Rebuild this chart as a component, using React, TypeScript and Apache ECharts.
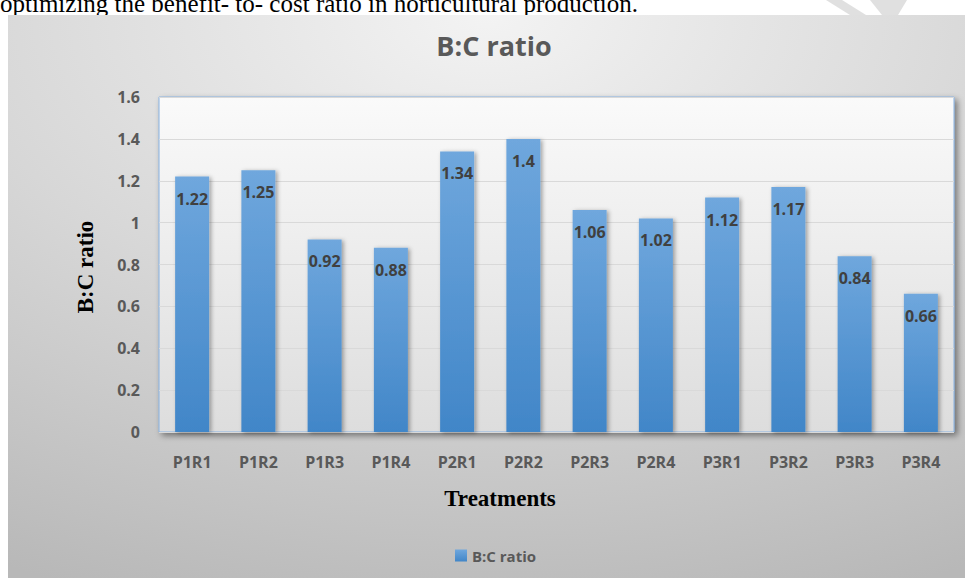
import React, { useEffect, useRef } from "react";
import * as echarts from "echarts";

const categories = ["P1R1", "P1R2", "P1R3", "P1R4", "P2R1", "P2R2", "P2R3", "P2R4", "P3R1", "P3R2", "P3R3", "P3R4"];
const bcRatio = [1.22, 1.25, 0.92, 0.88, 1.34, 1.4, 1.06, 1.02, 1.12, 1.17, 0.84, 0.66];
const seriesName = "B:C ratio";
const titleText = "B:C ratio";
const yAxisName = "B:C ratio";
const xAxisName = "Treatments";
const headerText = "optimizing the benefit- to- cost ratio in horticultural production.";

export default function App() {
  const ref = useRef<HTMLDivElement>(null);
  useEffect(() => {
    if (!ref.current) return;
    const chart = echarts.init(ref.current, undefined, { renderer: "svg" });
    const sans = "'Open Sans', 'Noto Sans', sans-serif";
    const serif = "'Liberation Serif', 'DejaVu Serif', serif";
    chart.setOption({
      animation: false,
      backgroundColor: "#ffffff",
      graphic: [
        {
          type: "text",
          z: -30,
          x: 0,
          y: 16,
          silent: true,
          style: {
            text: headerText,
            font: "25px " + serif,
            fill: "#000000",
            textVerticalAlign: "bottom",
          },
        },
        {
          type: "polygon",
          z: -20,
          silent: true,
          shape: { points: [[826, 0], [842, 0], [866, 15], [850, 15]] },
          style: { fill: "#e0e0e0" },
        },
        {
          type: "polygon",
          z: -20,
          silent: true,
          shape: { points: [[870, 0], [907, 0], [898, 15], [882, 15]] },
          style: { fill: "#e0e0e0" },
        },
        {
          type: "rect",
          z: -10,
          silent: true,
          shape: { x: 8, y: 15, width: 957, height: 563 },
          style: {
            fill: new echarts.graphic.RadialGradient(0.5, 0.0, 1.1, [
              { offset: 0, color: "#f3f3f3" },
              { offset: 0.5, color: "#d7d7d7" },
              { offset: 1, color: "#b8b8b8" },
            ]),
          },
        },
        {
          type: "text",
          z: 10,
          x: 494,
          y: 45,
          style: {
            text: titleText,
            font: "bold 27px " + sans,
            fill: "#595959",
            textAlign: "center",
            textVerticalAlign: "middle",
          },
        },
        {
          type: "text",
          z: 10,
          x: 85,
          y: 267,
          rotation: Math.PI / 2,
          style: {
            text: yAxisName,
            font: "bold 23px " + serif,
            fill: "#000000",
            textAlign: "center",
            textVerticalAlign: "middle",
          },
        },
        {
          type: "text",
          z: 10,
          x: 500,
          y: 498,
          style: {
            text: xAxisName,
            font: "bold 23px " + serif,
            fill: "#000000",
            textAlign: "center",
            textVerticalAlign: "middle",
          },
        },
      ],
      legend: {
        left: 450,
        top: 543,
        itemWidth: 12,
        itemHeight: 12,
        itemGap: 5,
        icon: "rect",
        textStyle: { fontFamily: sans, fontWeight: "bold", fontSize: 15, color: "#595959" },
        data: [seriesName],
      },
      grid: {
        left: 159,
        right: 11,
        top: 97,
        bottom: 146,
        show: true,
        borderColor: "#86b0e0",
        borderWidth: 1,
        backgroundColor: new echarts.graphic.LinearGradient(0, 0, 0, 1, [
          { offset: 0, color: "#fafafa" },
          { offset: 1, color: "#dddddd" },
        ]),
        shadowColor: "rgba(0,0,0,0.45)",
        shadowBlur: 6,
        shadowOffsetX: 3,
        shadowOffsetY: 3,
      },
      xAxis: {
        type: "category",
        data: categories,
        axisLine: { show: false },
        axisTick: { show: false },
        axisLabel: { margin: 22, fontFamily: sans, fontWeight: "bold", fontSize: 16, color: "#595959" },
      },
      yAxis: {
        type: "value",
        min: 0,
        max: 1.6,
        interval: 0.2,
        axisLine: { show: false },
        axisTick: { show: false },
        splitLine: { lineStyle: { color: "#d9d9d9", width: 1 } },
        axisLabel: {
          margin: 19,
          fontFamily: sans,
          fontWeight: "bold",
          fontSize: 16,
          color: "#595959",
          formatter: (v: number) => String(Math.round(v * 10) / 10),
        },
      },
      series: [
        {
          name: seriesName,
          type: "bar",
          data: bcRatio,
          barWidth: 34,
          itemStyle: {
            color: new echarts.graphic.LinearGradient(0, 0, 0, 1, [
              { offset: 0, color: "#6fa7dd" },
              { offset: 1, color: "#4186c8" },
            ]),
            shadowColor: "rgba(0,0,0,0.35)",
            shadowBlur: 4,
            shadowOffsetX: 2,
            shadowOffsetY: 1,
          },
          label: {
            show: true,
            position: "insideTop",
            distance: 14,
            fontFamily: sans,
            fontWeight: "bold",
            fontSize: 16,
            color: "#404040",
          },
        },
      ],
    });
    return () => chart.dispose();
  }, []);
  return (
    <div style={{ position: "fixed", left: 0, top: 0, width: 965, height: 578 }}>
      <div ref={ref} style={{ width: 965, height: 578 }} />
    </div>
  );
}
